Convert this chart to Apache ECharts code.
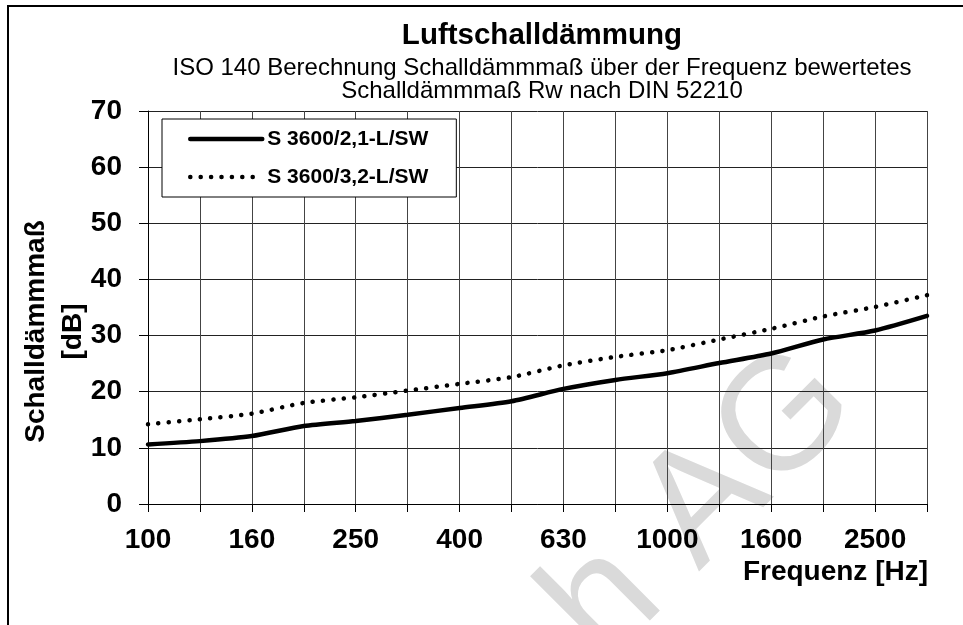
<!DOCTYPE html>
<html>
<head>
    <meta charset="UTF-8">
    <title>Luftschalldämmung</title>
    <script src="https://cdn.jsdelivr.net/npm/echarts@6/dist/echarts.min.js"></script>
    <style type="text/css">
        html, body { margin: 0; padding: 0; background: #fff; }
        #chart { width: 963px; height: 625px; }
    </style>
</head>
<body>
<div id="chart"></div>
<script type="text/javascript">
    // Terzbänder in Hz
    var frequencies = ['100', '125', '160', '200', '250', '315', '400', '500',
                       '630', '800', '1000', '1250', '1600', '2000', '2500', '3150'];
    var seriesNames = ['S 3600/2,1-L/SW', 'S 3600/3,2-L/SW'];
    // Schalldämmmaß [dB]
    var s3600_21 = [10.6, 11.2, 12.1, 13.9, 14.8, 15.9, 17.1, 18.3,
                    20.5, 22.1, 23.3, 25.1, 26.8, 29.3, 30.9, 33.5];
    var s3600_32 = [14.2, 15.1, 16.1, 18.0, 19.0, 20.2, 21.4, 22.6,
                    24.7, 26.2, 27.4, 29.3, 31.2, 33.4, 35.1, 37.2];

    var font = '"Liberation Sans", Arial, sans-serif';
    var chart = echarts.init(document.getElementById('chart'));

    chart.setOption({
        backgroundColor: '#fff',
        animation: false,
        title: {
            text: 'Luftschalldämmung',
            subtext: 'ISO 140 Berechnung Schalldämmmaß über der Frequenz bewertetes\nSchalldämmmaß Rw nach DIN 52210',
            left: 542,
            top: 21,
            textAlign: 'center',
            padding: 0,
            itemGap: 6,
            textStyle: { fontFamily: font, fontSize: 29.5, fontWeight: 'bold', color: '#000', lineHeight: 30 },
            subtextStyle: { fontFamily: font, fontSize: 24, color: '#000', lineHeight: 23 }
        },
        legend: {
            orient: 'vertical',
            left: 162,
            top: 119,
            padding: [8, 28, 8, 26],
            itemGap: 14,
            itemWidth: 72,
            itemHeight: 14,
            backgroundColor: '#fff',
            borderColor: '#000',
            borderWidth: 1,
            borderRadius: 0,
            itemStyle: { opacity: 0 },
            lineStyle: { width: 4.5 },
            textStyle: { fontFamily: font, fontSize: 21, fontWeight: 'bold', color: '#000', lineHeight: 24 },
            data: seriesNames
        },
        graphic: [
            {
                type: 'rect',
                z: 100,
                shape: { x: 8, y: 6, width: 1000, height: 700 },
                style: { fill: 'none', stroke: '#000', lineWidth: 2 }
            },
            {
                type: 'text',
                z: -10,
                x: 702,
                y: 506,
                rotation: Math.PI / 4,
                style: {
                    text: 'h AG',
                    font: '160px "Liberation Sans", Arial, sans-serif',
                    fill: '#dadada',
                    align: 'center',
                    verticalAlign: 'middle'
                }
            }
        ],
        grid: {
            left: 148,
            right: 36,
            top: 111,
            bottom: 121,
            containLabel: false,
            outerBoundsMode: 'none'
        },
        xAxis: {
            type: 'category',
            data: frequencies,
            boundaryGap: false,
            name: 'Frequenz [Hz]',
            nameLocation: 'end',
            nameGap: 1,
            nameMoveOverlap: false,
            nameTextStyle: {
                fontFamily: font, fontSize: 28, fontWeight: 'bold', color: '#000',
                align: 'right', verticalAlign: 'top', lineHeight: 30, padding: [53, 0, 0, 0]
            },
            axisLine: { lineStyle: { color: '#000', width: 1 } },
            axisTick: { show: true, interval: 0, length: 8, lineStyle: { color: '#000' } },
            axisLabel: {
                interval: 1,
                margin: 22,
                fontFamily: font, fontSize: 28, fontWeight: 'bold', color: '#000', lineHeight: 28
            },
            splitLine: { show: true, interval: 0, lineStyle: { color: '#444', width: 1 } }
        },
        yAxis: {
            type: 'value',
            min: 0,
            max: 70,
            interval: 10,
            name: 'Schalldämmmaß\n[dB]',
            nameLocation: 'middle',
            nameRotate: 90,
            nameGap: 56,
            nameMoveOverlap: false,
            nameTextStyle: {
                fontFamily: font, fontSize: 28, fontWeight: 'bold', color: '#000',
                lineHeight: 37, padding: [0, 48, 0, 0]
            },
            axisLine: { show: true, lineStyle: { color: '#000', width: 1 } },
            axisTick: { show: true, length: 9, lineStyle: { color: '#000' } },
            axisLabel: {
                margin: 26,
                fontFamily: font, fontSize: 28, fontWeight: 'bold', color: '#000'
            },
            splitLine: { show: true, lineStyle: { color: '#222', width: 1 } }
        },
        series: [
            {
                name: seriesNames[0],
                type: 'line',
                data: s3600_21,
                symbol: 'none',
                smooth: 0.25,
                lineStyle: { color: '#000', width: 4.5, cap: 'round' },
                itemStyle: { color: '#000' }
            },
            {
                name: seriesNames[1],
                type: 'line',
                data: s3600_32,
                symbol: 'none',
                smooth: 0.25,
                lineStyle: { color: '#000', width: 4.5, type: [0.1, 10.3], cap: 'round' },
                itemStyle: { color: '#000' }
            }
        ]
    });
</script>
</body>
</html>
